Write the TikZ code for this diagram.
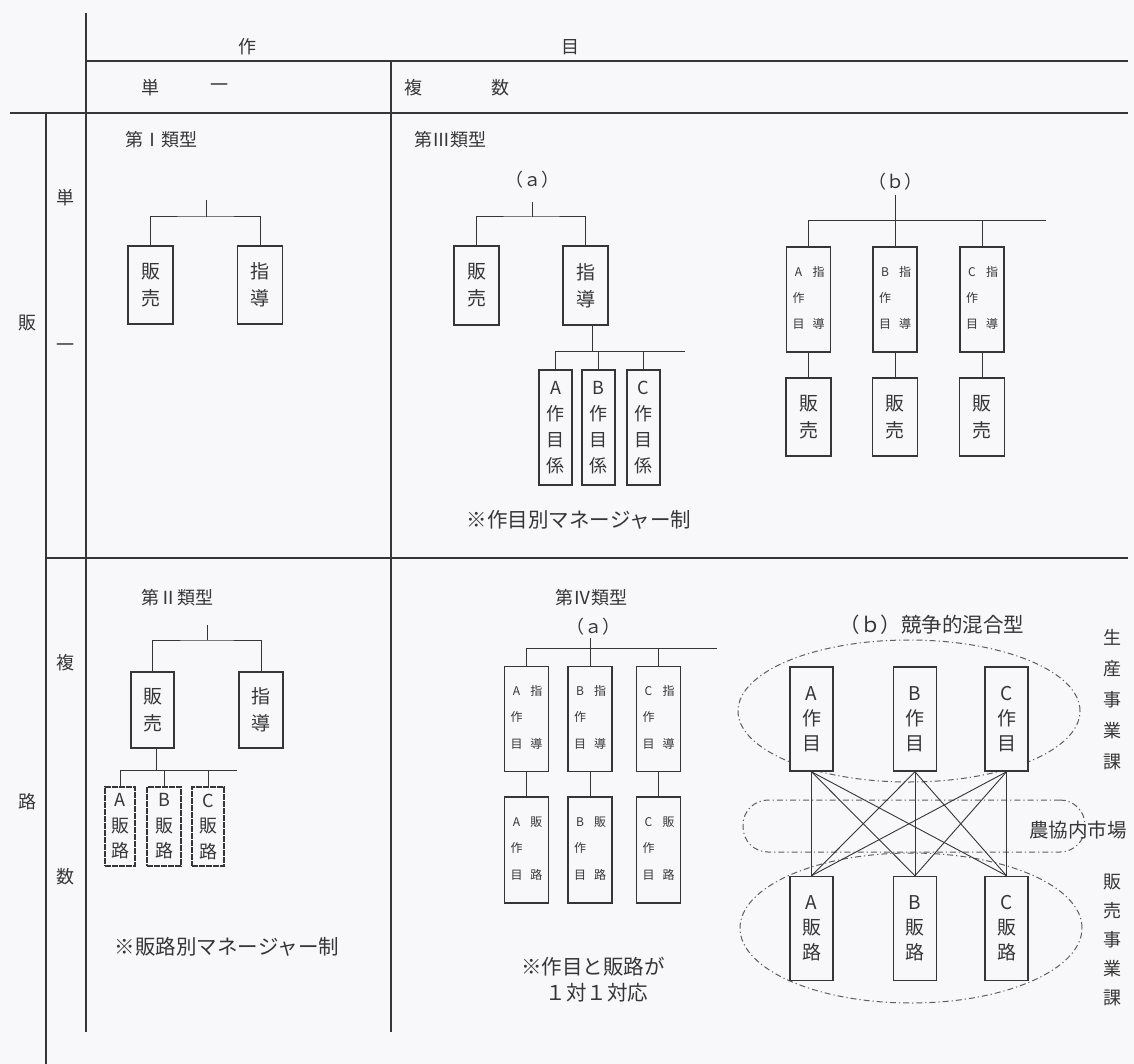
\documentclass[tikz,border=0pt]{standalone}
\usepackage{fontspec}
\setmainfont{Noto Sans CJK JP}
\usetikzlibrary{shapes.geometric}
\definecolor{ink}{HTML}{363636}
\definecolor{paper}{HTML}{F8F7F9}
\newcommand\mixtxt[3]{\begin{tabular}{@{}c@{\hspace{8pt}}c@{}}#1&#2\\[12pt]作&\\[12pt]目&#3\end{tabular}}
\tikzset{
  rule/.style={draw=ink, line width=1.3pt},
  conn/.style={draw=ink, line width=1pt},
  lbl/.style={text=ink, inner sep=0pt, font=\fontsize{18}{20}\selectfont},
  note/.style={text=ink, inner sep=0pt, font=\fontsize{20.5}{24}\selectfont},
  bigbox/.style={draw=ink, line width=1.6pt, inner sep=0pt, minimum width=45pt, minimum height=78pt, align=center, text=ink, font=\fontsize{19}{27}\selectfont},
  midbox/.style={draw=ink, line width=1.3pt, inner sep=0pt, minimum width=33pt, minimum height=115pt, align=center, text=ink, font=\fontsize{18}{26}\selectfont},
  pathbox/.style={draw=ink, line width=1.1pt, dash pattern=on 6pt off 1pt, inner sep=0pt, minimum width=32pt, minimum height=79pt, align=center, text=ink, font=\fontsize{18}{25.5}\selectfont},
  mixbox/.style={draw=ink, line width=1.6pt, inner sep=0pt, minimum width=44pt, minimum height=105pt, text=ink, font=\fontsize{12}{14}\selectfont},
  crbox/.style={draw=ink, line width=1.6pt, inner sep=0pt, minimum width=43pt, minimum height=104pt, align=center, text=ink, font=\fontsize{19}{25}\selectfont, fill=paper},
  grp/.style={draw=ink!80, line width=1pt, dash pattern=on 6pt off 3pt on 1.2pt off 3pt},
  vtxt/.style={text=ink, inner sep=0pt, align=center},
}
\begin{document}
\begin{tikzpicture}[x=1pt,y=-1pt]
\fill[paper] (0,0) rectangle (1134,1064);
\useasboundingbox (0,0) rectangle (1134,1064);

% table rules
\draw[rule] (86,13) -- (86,1032);
\draw[rule] (86,61) -- (1128,61);
\draw[rule] (10,113) -- (1128,113);
\draw[rule] (46,113) -- (46,1064);
\draw[rule] (391,61) -- (391,1032);
\draw[rule] (46,558) -- (1128,558);

% headers
\node[lbl] (h1) at (247,47) {作};
\node[lbl] (h2) at (570,47) {目};
\node[lbl] (h3) at (150,88) {単};
\node[lbl] (h4) at (219,88) {一};
\node[lbl] (h5) at (413,88) {複};
\node[lbl] (h6) at (500,88) {数};
\node[lbl] (v1) at (27,323) {販};
\node[lbl] (v2) at (27,802) {路};
\node[lbl] (v3) at (65,198) {単};
\node[lbl] (v4) at (65,348) {一};
\node[lbl] (v5) at (65,663) {複};
\node[lbl] (v6) at (65,877) {数};

% ---------- Type I ----------
\node[lbl] (t1) at (161,140) {第Ⅰ類型};
\node[bigbox] (s1a) at (150.5,285) {販\\売};
\node[bigbox] (s1b) at (260,285) {指\\導};
\coordinate (r1top) at (206,200);
\coordinate (r1) at (206,217);
\draw[conn] (r1top) -- (r1);
\draw[conn] (s1a.north) |- (r1) -| (s1b.north);

% ---------- Type III (a) ----------
\node[lbl] (t3) at (450,140) {第Ⅲ類型};
\node[lbl] (t3a) at (532,180) {（ａ）};
\node[bigbox, minimum height=79pt] (s3a) at (476.5,285.5) {販\\売};
\node[bigbox, minimum height=79pt] (s3b) at (585.5,285.5) {指\\導};
\coordinate (r3top) at (532,202);
\coordinate (r3) at (532,217);
\draw[conn] (r3top) -- (r3);
\draw[conn] (s3a.north) |- (r3) -| (s3b.north);
\coordinate (j3) at (592,351);
\coordinate (j3e) at (685,351);
\node[midbox] (k3a) at (555.5,427.5) {A\\作\\目\\係};
\node[midbox] (k3b) at (598.5,427.5) {B\\作\\目\\係};
\node[midbox] (k3c) at (643.5,427.5) {C\\作\\目\\係};
\draw[conn] (s3b.south -| j3) -- (j3);
\draw[conn] (k3a.north) |- (j3e);
\draw[conn] (k3b.north) -- (k3b.north |- j3e);
\draw[conn] (k3c.north) -- (k3c.north |- j3e);
\node[note] (n3) at (579,520) {※作目別マネージャー制};

% ---------- Type III (b) ----------
\node[lbl] (t3b) at (895,182) {（ｂ）};
\node[mixbox] (m3a) at (808.5,299.5) {\mixtxt{A}{指}{導}};
\node[mixbox] (m3b) at (895,299.5) {\mixtxt{B}{指}{導}};
\node[mixbox] (m3c) at (982,299.5) {\mixtxt{C}{指}{導}};
\node[bigbox] (u3a) at (808.5,417) {販\\売};
\node[bigbox] (u3b) at (895,417) {販\\売};
\node[bigbox] (u3c) at (982,417) {販\\売};
\coordinate (r3btop) at (895,195);
\coordinate (j3b) at (1046,221);
\draw[conn] (r3btop) -- (m3b.north);
\draw[conn] (m3a.north) |- (j3b);
\draw[conn] (m3c.north) -- (m3c.north |- j3b);
\draw[conn] (m3a.south) -- (u3a.north);
\draw[conn] (m3b.south) -- (u3b.north);
\draw[conn] (m3c.south) -- (u3c.north);

% ---------- Type II ----------
\node[lbl] (t2) at (177,598) {第Ⅱ類型};
\node[bigbox, minimum width=43pt, minimum height=76pt] (s2a) at (152.5,710) {販\\売};
\node[bigbox, minimum width=44pt, minimum height=76pt] (s2b) at (261,710) {指\\導};
\coordinate (r2top) at (207,625);
\coordinate (r2) at (207,640);
\draw[conn] (r2top) -- (r2);
\draw[conn] (s2a.north) |- (r2) -| (s2b.north);
\coordinate (j2) at (156,770);
\coordinate (j2e) at (237,770);
\node[pathbox, minimum width=30pt] (p2a) at (120,826.5) {A\\販\\路};
\node[pathbox, minimum width=34pt] (p2b) at (164,826.5) {B\\販\\路};
\node[pathbox] (p2c) at (208,826.5) {C\\販\\路};
\draw[conn] (s2a.south -| j2) -- (j2);
\draw[conn] (p2a.north) |- (j2e);
\draw[conn] (p2b.north) -- (p2b.north |- j2e);
\draw[conn] (p2c.north) -- (p2c.north |- j2e);
\node[note] (n2) at (227,947) {※販路別マネージャー制};

% ---------- Type IV (a) ----------
\node[lbl] (t4) at (591,598) {第Ⅳ類型};
\node[lbl] (t4a) at (593,627) {（ａ）};
\node[mixbox] (q4a) at (526.5,719) {\mixtxt{A}{指}{導}};
\node[mixbox] (q4b) at (590,719) {\mixtxt{B}{指}{導}};
\node[mixbox] (q4c) at (658.5,719) {\mixtxt{C}{指}{導}};
\node[mixbox, minimum height=106pt] (w4a) at (526.5,850) {\mixtxt{A}{販}{路}};
\node[mixbox, minimum height=106pt] (w4b) at (590,850) {\mixtxt{B}{販}{路}};
\node[mixbox, minimum height=106pt] (w4c) at (658.5,850) {\mixtxt{C}{販}{路}};
\coordinate (r4top) at (590,638);
\coordinate (j4e) at (717,648);
\draw[conn] (r4top) -- (q4b.north);
\draw[conn] (q4a.north) |- (j4e);
\draw[conn] (q4c.north) -- (q4c.north |- j4e);
\draw[conn] (q4a.south) -- (w4a.north);
\draw[conn] (q4b.south) -- (w4b.north);
\draw[conn] (q4c.south) -- (w4c.north);
\node[note] (n4a) at (593,967) {※作目と販路が};
\node[note] (n4b) at (597,993) {１対１対応};

% ---------- Type IV (b) ----------
\node[note] (t4b) at (932,625) {（ｂ）競争的混合型};
\node[ellipse, grp, inner sep=0pt, minimum width=342pt, minimum height=142pt] (e1) at (909,711) {};
\node[ellipse, grp, inner sep=0pt, minimum width=342pt, minimum height=150pt] (e2) at (911,928) {};
\node[grp, rounded corners=25pt, inner sep=0pt, minimum width=342pt, minimum height=52pt] (e3) at (914,826) {};
\node[crbox] (x1) at (811.5,719) {A\\作\\目};
\node[crbox] (x2) at (915,719) {B\\作\\目};
\node[crbox] (x3) at (1006.5,719) {C\\作\\目};
\node[crbox] (y1) at (811.5,928.5) {A\\販\\路};
\node[crbox] (y2) at (915,928.5) {B\\販\\路};
\node[crbox] (y3) at (1006.5,928.5) {C\\販\\路};
\foreach \a in {x1,x2,x3}{
  \foreach \b in {y1,y2,y3}{
    \draw[conn, line width=0.9pt] (\a.south) -- (\b.north);
  }
}
\node[note, font=\fontsize{19.5}{24}\selectfont] (mk) at (1078,830) {農協内市場};
\node[vtxt, font=\fontsize{18}{31}\selectfont] (g1) at (1112,700) {生\\産\\事\\業\\課};
\node[vtxt, font=\fontsize{18}{29}\selectfont] (g2) at (1112,940) {販\\売\\事\\業\\課};
\end{tikzpicture}
\end{document}
